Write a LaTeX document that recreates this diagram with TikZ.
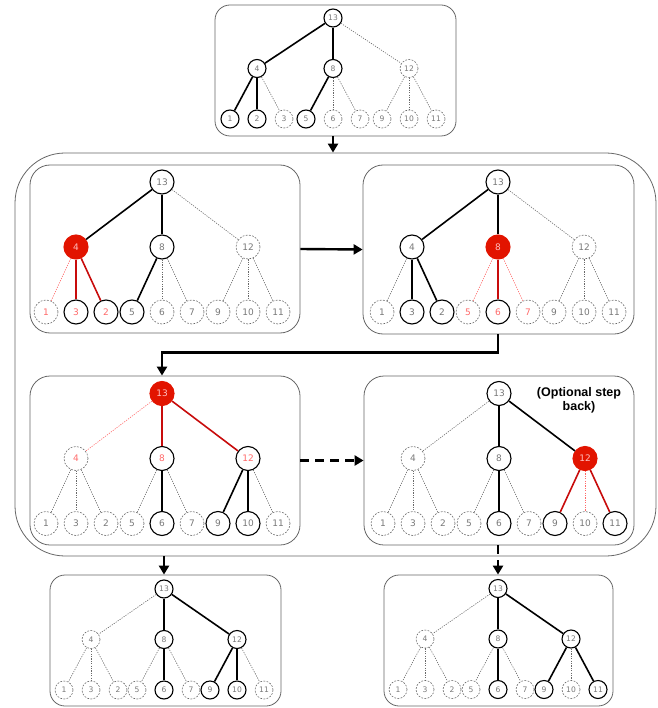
\documentclass[tikz,border=0pt]{standalone}
\usepackage{fontspec}
\newfontfamily\numfont{DejaVu Sans}
\newfontfamily\notefont{Liberation Sans}
\usetikzlibrary{arrows.meta,fit}

\definecolor{numgray}{RGB}{120,120,120}
\definecolor{rimgray}{RGB}{105,105,105}
\definecolor{pickred}{RGB}{226,20,0}
\definecolor{edgered}{RGB}{200,12,12}
\definecolor{lightred}{RGB}{255,105,105}

\tikzset{
  heapnode/.style={circle, inner sep=0pt, text=numgray,
    font=\numfont\fontsize{\heapfs}{\heapfs}\selectfont, minimum size=\heapns},
  on/.style={draw=black, line width=1.1pt},
  off/.style={draw=rimgray, line width=0.6pt, dash pattern=on 1.8pt off 1.4pt},
  onred/.style={on, text=lightred},
  offred/.style={off, text=lightred},
  pick/.style={draw=pickred, fill=pickred, line width=1.1pt, text=red!25},
  hard/.style={draw=black, line width=1.6pt},
  soft/.style={draw=rimgray, line width=0.6pt, dash pattern=on 1.2pt off 1.2pt},
  hardred/.style={draw=edgered, line width=1.6pt},
  softred/.style={draw=lightred, line width=0.6pt, dash pattern=on 1.2pt off 1.2pt},
  n1/.style={off}, n2/.style={off}, n3/.style={off}, n4/.style={off},
  n5/.style={off}, n6/.style={off}, n7/.style={off}, n8/.style={off},
  n9/.style={off}, n10/.style={off}, n11/.style={off}, n12/.style={off},
  n13/.style={off},
  e1/.style={soft}, e2/.style={soft}, e3/.style={soft}, e4/.style={soft},
  e5/.style={soft}, e6/.style={soft}, e7/.style={soft}, e8/.style={soft},
  e9/.style={soft}, e10/.style={soft}, e11/.style={soft}, e12/.style={soft},
  bigtree/.style={/utils/exec={\def\heaphx{86}\def\heaplx{30}\def\heapvy{65}%
    \def\heapns{24pt}\def\heapfs{9}}},
  smalltree/.style={/utils/exec={\def\heaphx{73}\def\heaplx{27}\def\heapvy{50.5}%
    \def\heapns{18pt}\def\heapfs{7.6}}},
  panel/.style={draw=black!60, line width=0.8pt, rounded corners=20pt, inner sep=0pt},
  flow/.style={draw=black, line width=2.4pt, -{Triangle[length=9pt,width=10pt]}},
  maybe/.style={flow, dash pattern=on 9pt off 6pt}
}

\newcommand{\heap}[5]{% #1 looks, #2 name, #3 root, #4 #5 middle and right leaf under 4
  \begin{scope}[shift={#3}, #1]
    \node[heapnode, n13] (#2-13) at (0,0) {13};
    \node[heapnode, n4] (#2-4) at (-\heaphx,\heapvy) {4};
    \node[heapnode, n8] (#2-8) at (0,\heapvy) {8};
    \node[heapnode, n12] (#2-12) at (\heaphx,\heapvy) {12};
    \foreach \c in {4,8,12} \draw[e\c] (#2-13) -- (#2-\c);
    \foreach \c/\p/\f/\o in {1/4/-1/-1, #4/4/-1/0, #5/4/-1/1,
        5/8/0/-1, 6/8/0/0, 7/8/0/1, 9/12/1/-1, 10/12/1/0, 11/12/1/1} {
      \node[heapnode, n\c] (#2-\c) at ({\f*\heaphx+\o*\heaplx},{2*\heapvy}) {\c};
      \draw[e\c] (#2-\p) -- (#2-\c);
    }
  \end{scope}}

\begin{document}
\begin{tikzpicture}[x=1pt,y=-1pt]
  \useasboundingbox (0,0) rectangle (657,708);

  \node[panel, rounded corners=50pt, fit={(15,153) (656,556)}] (hub) {};
  \node[panel, rounded corners=15pt, fit={(215,5) (456,136)}] (p0) {};
  \node[panel, fit={(30,165) (300,333)}] (p1) {};
  \node[panel, fit={(363,165) (634,334)}] (p2) {};
  \node[panel, fit={(30,376) (300,545)}] (p3) {};
  \node[panel, fit={(364,376) (634,545)}] (p4) {};
  \node[panel, rounded corners=15pt, fit={(50,575) (281,706)}] (p5) {};
  \node[panel, rounded corners=15pt, fit={(384,575) (613,706)}] (p6) {};

  \heap{smalltree, /utils/exec={\def\heaphx{76}}, n13/.style={on}, n4/.style={on},
    n8/.style={on}, n1/.style={on}, n2/.style={on}, n5/.style={on},
    e4/.style={hard}, e8/.style={hard}, e1/.style={hard}, e2/.style={hard},
    e5/.style={hard}}{a}{(333,18)}{2}{3}
  \heap{bigtree, n13/.style={on}, n4/.style={pick}, n8/.style={on},
    n1/.style={offred}, n3/.style={onred}, n2/.style={onred}, n5/.style={on},
    e4/.style={hard}, e8/.style={hard}, e1/.style={softred}, e3/.style={hardred},
    e2/.style={hardred}, e5/.style={hard}}{b}{(162,182)}{3}{2}
  \heap{bigtree, n13/.style={on}, n4/.style={on}, n8/.style={pick},
    n3/.style={on}, n2/.style={on}, n5/.style={offred}, n6/.style={onred},
    n7/.style={offred}, e4/.style={hard}, e8/.style={hard}, e3/.style={hard},
    e2/.style={hard}, e5/.style={softred}, e6/.style={hardred},
    e7/.style={softred}}{c}{(498,182)}{3}{2}
  \heap{bigtree, n13/.style={pick}, n4/.style={offred}, n8/.style={onred},
    n12/.style={onred}, n6/.style={on}, n9/.style={on}, n10/.style={on},
    e4/.style={softred}, e8/.style={hardred}, e12/.style={hardred},
    e6/.style={hard}, e9/.style={hard}, e10/.style={hard}}{d}{(162,393.5)}{3}{2}
  \heap{bigtree, n13/.style={on}, n8/.style={on}, n12/.style={pick},
    n6/.style={on}, n9/.style={on}, n11/.style={on}, e8/.style={hard},
    e12/.style={hard}, e6/.style={hard}, e9/.style={hardred},
    e10/.style={softred}, e11/.style={hardred}}{e}{(499,393.5)}{3}{2}
  \heap{smalltree, n13/.style={on}, n8/.style={on}, n12/.style={on},
    n6/.style={on}, n9/.style={on}, n10/.style={on}, e8/.style={hard},
    e12/.style={hard}, e6/.style={hard}, e9/.style={hard},
    e10/.style={hard}}{f}{(164,589)}{3}{2}
  \heap{smalltree, n13/.style={on}, n8/.style={on}, n12/.style={on},
    n6/.style={on}, n9/.style={on}, n11/.style={on}, e8/.style={hard},
    e12/.style={hard}, e6/.style={hard}, e9/.style={hard},
    e11/.style={hard}}{g}{(498,588.5)}{3}{2}

  \node[font=\notefont\bfseries\fontsize{12.5}{14}\selectfont, align=center]
    (note) at (579,400) {(Optional step\\back)};

  \draw[flow] (p0.south -| a-13) -- (hub.north -| a-13);
  \draw[flow] (p1.east) -- (p2.west);
  \draw[flow] (p2.south -| c-13) -- ++(0,18) -| (p3.north -| d-13);
  \draw[maybe] (p3.east) -- (p4.west);
  \draw[flow] (hub.south -| f-13) -- (p5.north -| f-13);
  \draw[maybe] (p4.south -| g-13) -- (p6.north -| g-13);
\end{tikzpicture}
\end{document}
